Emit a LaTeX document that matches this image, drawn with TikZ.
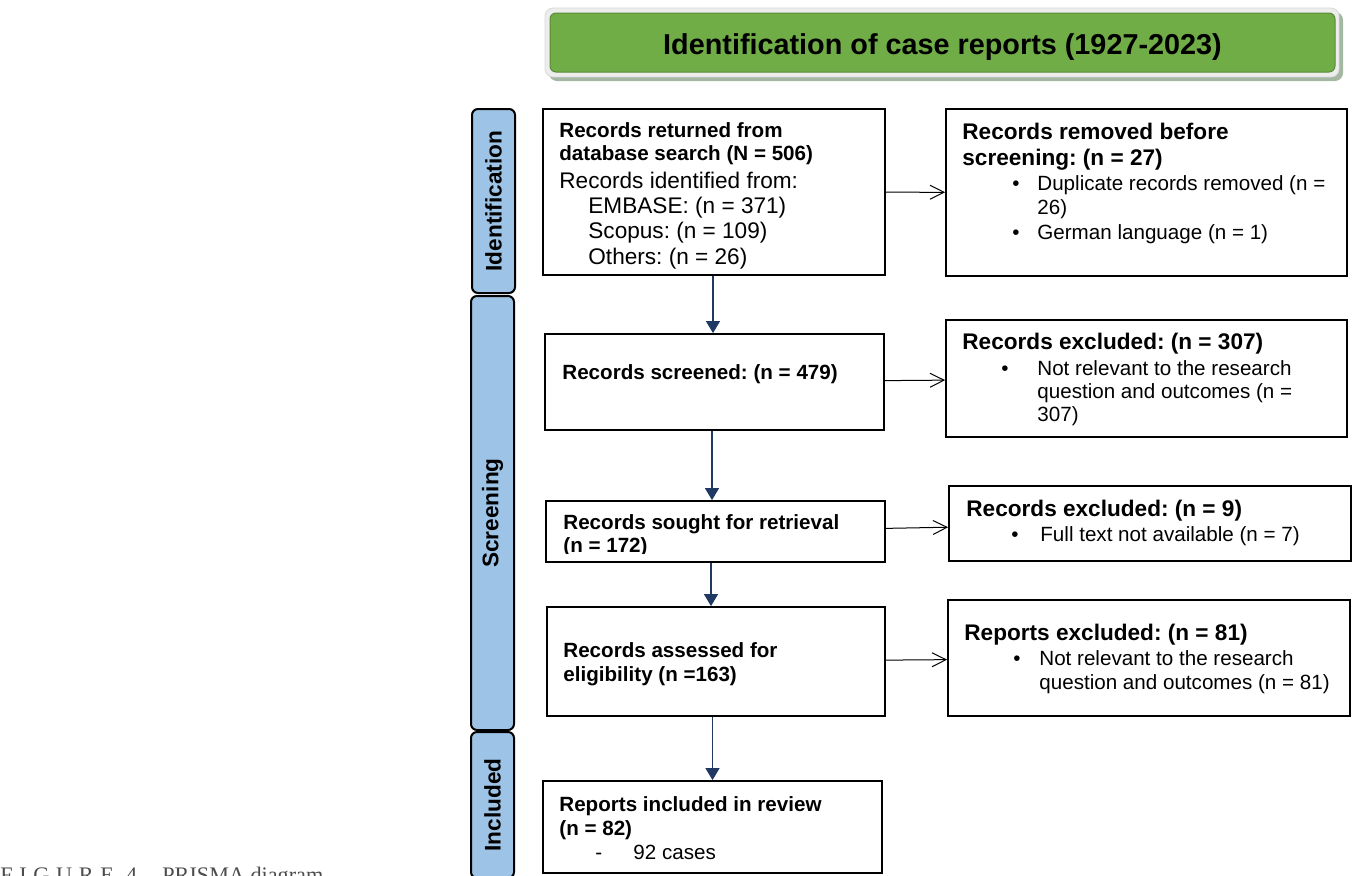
\documentclass[tikz,border=0pt]{standalone}
\usepackage{fontspec}
\setmainfont{Liberation Sans}
\newfontfamily\captionserif{Liberation Serif}
\usetikzlibrary{arrows.meta}
\definecolor{bannergreen}{HTML}{70AD47}
\definecolor{phaseblue}{HTML}{9DC3E6}
\definecolor{navylink}{HTML}{1F3864}
\frenchspacing
\newcommand{\bigtxt}{\fontsize{11.3}{11.5}\selectfont}
\newcommand{\headtxt}{\fontsize{11.3}{11.5}\selectfont\bfseries}
\newcommand{\blt}[2]{\hspace*{#1}\makebox[#2][l]{\textbullet}}
\begin{document}
\begin{tikzpicture}[
    x=0.5pt, y=0.5pt,
    flowbox/.style={draw=black, line width=0.9pt, rectangle, inner sep=0pt},
    phasebar/.style={draw=black, line width=1pt, fill=phaseblue, rounded corners=3pt,
                     rotate=90, inner sep=0pt, font=\fontsize{11.3}{13}\selectfont\bfseries},
    boxtext/.style={anchor=base west, inner sep=0pt, align=left, font=\fontsize{10.3}{11.5}\selectfont},
    vlink/.style={draw=navylink, line width=0.6pt, -{Triangle[width=7pt,length=6pt]}},
    hlink/.style={draw=black, line width=0.5pt, -{Straight Barb[width=7pt,length=7pt]}}
]
\useasboundingbox (0,0) rectangle (1354,-875);

% ===== Title banner =====
\fill[rounded corners=4pt, fill=black!35!green!20!gray!60] (549,-12) rectangle (1343,-81);
\draw[rounded corners=4pt, fill=black!7, draw=black!15] (545,-8) rectangle (1339,-77);
\node[draw=bannergreen!80!black, line width=0.5pt, fill=bannergreen, rounded corners=3pt,
      minimum width=392.5pt, minimum height=29.5pt, inner sep=0pt,
      text height=12.5pt, text depth=1pt,
      font=\fontsize{14.4}{17}\selectfont\bfseries] (title) at (942.5,-42.5)
      {Identification of case reports (1927-2023)};

% ===== Phase bars =====
\node[phasebar, minimum width=92pt, minimum height=21.5pt] (idphase) at (493.5,-201) {Identification};
\node[phasebar, minimum width=217pt, minimum height=21.5pt] (scphase) at (492.5,-513) {Screening};
\node[phasebar, minimum width=73pt, minimum height=21.5pt] (inphase) at (492.5,-805) {Included};

% ===== Left column (text nodes sit on their last baseline) =====
\node[flowbox, minimum width=171pt, minimum height=83pt] (returned) at (714,-192) {};
\node[boxtext] (returned-txt) at (559,-264) {%
    \textbf{Records returned from}\\
    \textbf{database search (N = 506)}\\[2.5pt]
    \bigtxt Records identified from:\\[1pt]
    \bigtxt\hspace*{14.5pt}EMBASE: (n = 371)\\[1pt]
    \bigtxt\hspace*{14.5pt}Scopus: (n = 109)\\[1.5pt]
    \bigtxt\hspace*{14.5pt}Others: (n = 26)};

\node[flowbox, minimum width=169.5pt, minimum height=48pt] (screened) at (714.5,-382) {};
\node[boxtext] (screened-txt) at (562,-379) {\textbf{Records screened: (n = 479)}};

\node[flowbox, minimum width=169.5pt, minimum height=30.5pt] (sought) at (715.5,-531.5) {};
\begin{scope}
    \clip (546,-501) rectangle (885,-553);
    \node[boxtext] (sought-txt) at (563,-552) {%
        \textbf{Records sought for retrieval}\\
        \textbf{(n = 172)}};
\end{scope}

\node[flowbox, minimum width=169pt, minimum height=54.5pt] (assessed) at (716,-661.5) {};
\node[boxtext] (assessed-txt) at (563,-681) {%
    \textbf{Records assessed for}\\[0.5pt]
    \textbf{eligibility (n =163)}};

\node[flowbox, minimum width=169.5pt, minimum height=46pt] (included) at (712.5,-827) {};
\node[boxtext] (included-txt) at (559,-859) {%
    \textbf{Reports included in review}\\[0.5pt]
    \textbf{(n = 82)}\\[0.5pt]
    \hspace*{18pt}\makebox[19pt][l]{-}92 cases};

% ===== Right column =====
\node[flowbox, minimum width=200.5pt, minimum height=83.5pt] (removed) at (1146.5,-192.5) {};
\node[boxtext] (removed-txt) at (962,-239) {%
    \headtxt Records removed before\\[1.5pt]
    \headtxt screening: (n = 27)\\[1pt]
    \blt{25pt}{12.5pt}Duplicate records removed (n =\\[0.5pt]
    \hspace*{37.5pt}26)\\[1pt]
    \blt{25pt}{12.5pt}German language (n = 1)};

\node[flowbox, minimum width=200.5pt, minimum height=58.5pt] (excluded) at (1146.5,-378.5) {};
\node[boxtext] (excluded-txt) at (962,-421) {%
    \headtxt Records excluded: (n = 307)\\[1.5pt]
    \blt{19.5pt}{18pt}Not relevant to the research\\
    \hspace*{37.5pt}question and outcomes (n =\\
    \hspace*{37.5pt}307)};

\node[flowbox, minimum width=201pt, minimum height=37.5pt] (notfound) at (1150,-523.5) {};
\node[boxtext] (notfound-txt) at (966,-541) {%
    \headtxt Records excluded: (n = 9)\\[1pt]
    \blt{22.5pt}{14.5pt}Full text not available (n = 7)};

\node[flowbox, minimum width=201pt, minimum height=58pt] (ineligible) at (1149,-658) {};
\node[boxtext] (ineligible-txt) at (964,-689) {%
    \headtxt Reports excluded: (n = 81)\\[1pt]
    \blt{24.5pt}{13pt}Not relevant to the research\\[0.5pt]
    \hspace*{37.5pt}question and outcomes (n = 81)};

% ===== Links =====
\draw[vlink] (returned.south -| 713,0) -- (screened.north -| 713,0);
\draw[vlink] (screened.south -| 712,0) -- (sought.north -| 712,0);
\draw[vlink] (sought.south -| 711,0) -- (assessed.north -| 711,0);
\draw[vlink] (assessed.south -| included) -- (included.north);

\draw[hlink] (returned) -- (removed);
\draw[hlink] (screened) -- (excluded);
\draw[hlink] (sought) -- (notfound);
\draw[hlink] (assessed) -- (ineligible);

% ===== Caption (cut by the page edge) =====
\node[anchor=base west, inner sep=0pt, text=black!70,
      font=\captionserif\fontsize{11.1}{13}\selectfont] (caption) at (0,-882)
      {\makebox[81pt][l]{\addfontfeature{LetterSpace=30}FIGURE 4}PRISMA diagram};
\end{tikzpicture}
\end{document}
